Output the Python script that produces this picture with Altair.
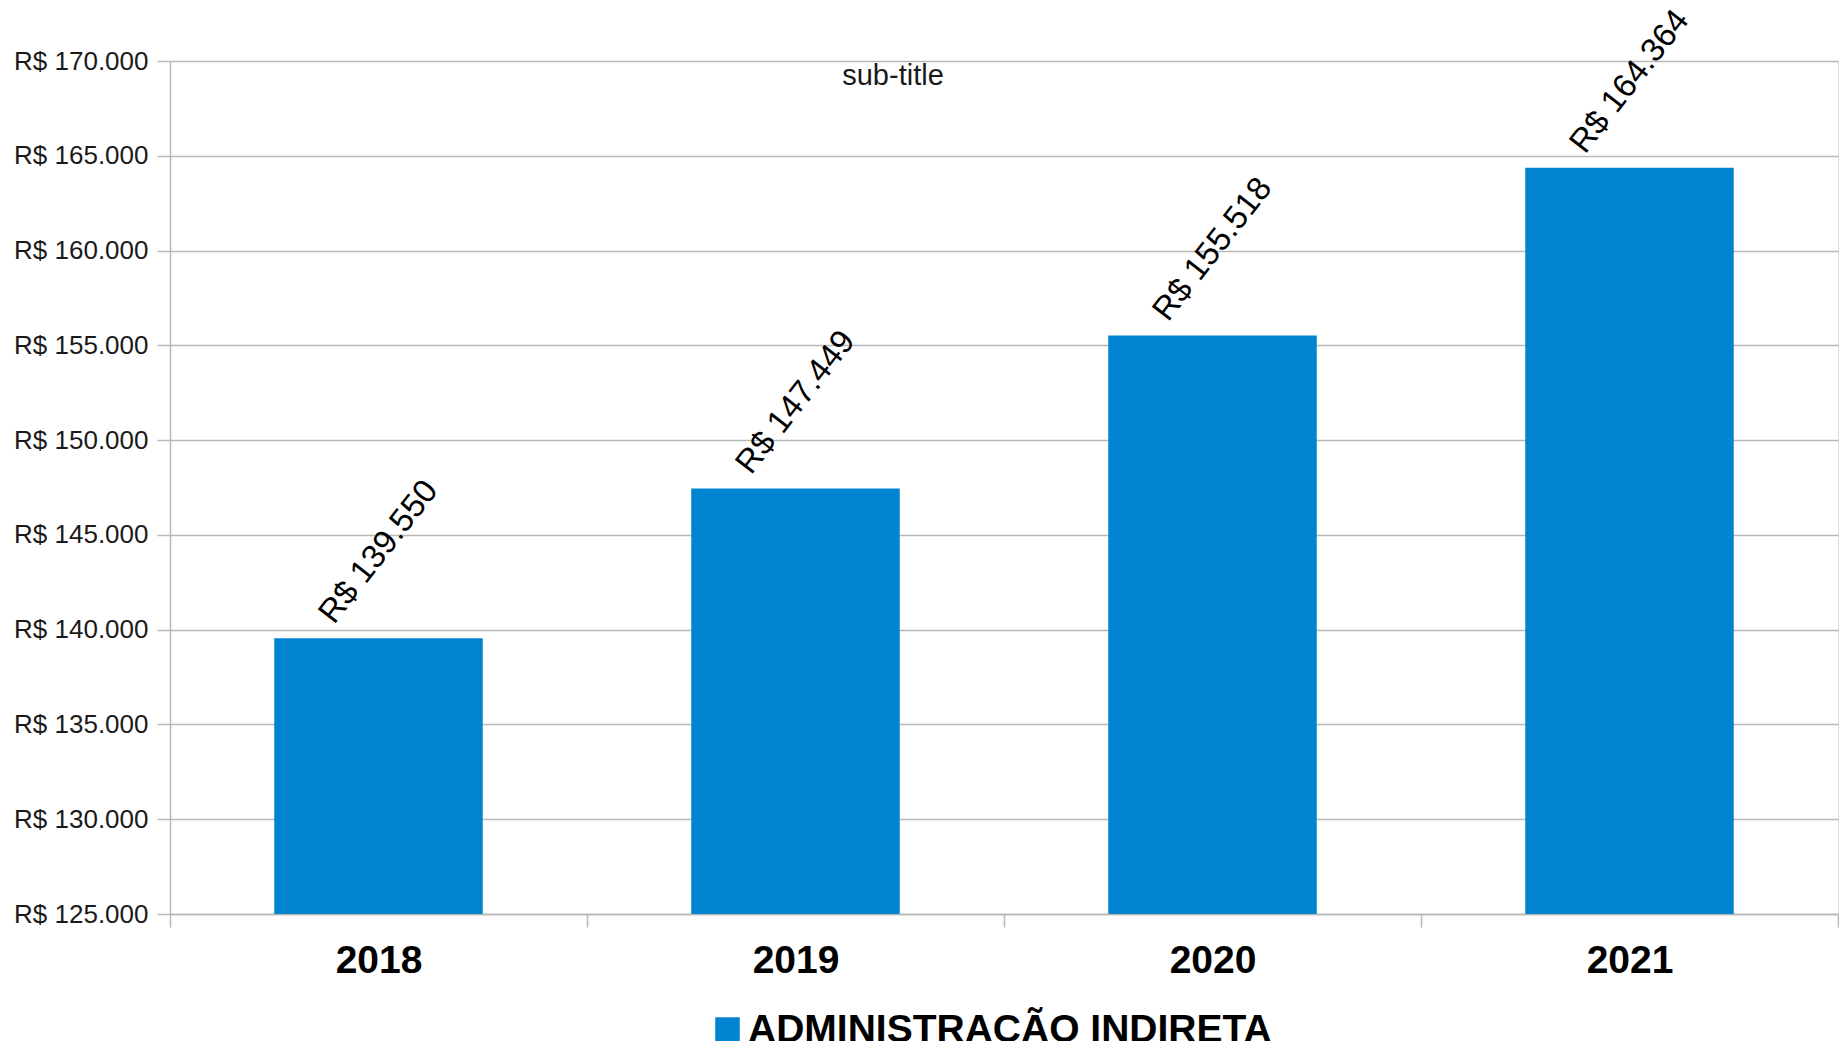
import altair as alt
import pandas as pd

# ---- data ----
years = ["2018", "2019", "2020", "2021"]
values = [139550, 147449, 155518, 164364]
series_name = "ADMINISTRAÇÃO INDIRETA"
y_ticks = [125000, 130000, 135000, 140000, 145000, 150000, 155000, 160000, 165000, 170000]
subtitle_text = ["sub-title"]


def brl(v):
    return "R$ " + f"{v:,}".replace(",", ".")


df = pd.DataFrame({
    "ano": years,
    "valor": values,
    "serie": [series_name] * len(years),
    "rotulo": [brl(v) for v in values],
})
df_sub = pd.DataFrame({"t": subtitle_text})

SANS = "Liberation Sans"
GRAY = "#b8b8b8"
BLUE = "#0084d1"

x_enc = alt.X(
    "ano:N",
    sort=years,
    title=None,
    scale=alt.Scale(paddingInner=0, paddingOuter=0),
    axis=alt.Axis(
        labelAngle=0,
        labelFont=SANS,
        labelFontSize=39,
        labelFontWeight="bold",
        labelColor="#000000",
        labelPadding=14,
        tickBand="extent",
        tickSize=13,
        tickColor=GRAY,
        tickWidth=1.5,
        domainColor=GRAY,
        domainWidth=1.5,
        grid=False,
    ),
)

y_enc = alt.Y(
    "valor:Q",
    title=None,
    scale=alt.Scale(domain=[y_ticks[0], y_ticks[-1]], zero=False, nice=False),
    axis=alt.Axis(
        values=y_ticks,
        labelExpr="'R$ ' + replace(format(datum.value, ','), ',', '.')",
        labelFont=SANS,
        labelFontSize=26,
        labelColor="#1a1a1a",
        labelPadding=9,
        tickSize=13,
        tickColor=GRAY,
        tickWidth=1.5,
        domainColor=GRAY,
        domainWidth=1.5,
        gridColor=GRAY,
        gridWidth=1.5,
    ),
)

bars = alt.Chart(df).mark_bar(clip=True, width=alt.RelativeBandSize(0.5)).encode(
    x=x_enc,
    y=y_enc,
    color=alt.Color(
        "serie:N",
        scale=alt.Scale(range=[BLUE]),
        legend=alt.Legend(
            title=None,
            orient="none",
            legendX=538,
            legendY=949,
            padding=0,
            symbolType="square",
            symbolSize=600,
            symbolStrokeWidth=0,
            labelFont=SANS,
            labelFontSize=39,
            labelFontWeight="bold",
            labelColor="#000000",
            labelOffset=1,
            labelLimit=1000,
        ),
    ),
)

labels = alt.Chart(df).mark_text(
    angle=308,
    align="center",
    baseline="middle",
    dx=68,
    dy=-53,
    font=SANS,
    fontSize=33,
    color="#000000",
).encode(
    x=alt.X("ano:N", sort=years),
    y=alt.Y("valor:Q"),
    text="rotulo:N",
)

sub = alt.Chart(df_sub).mark_text(
    align="center",
    baseline="alphabetic",
    font=SANS,
    fontSize=29,
    color="#1a1a1a",
).encode(
    x=alt.value(723),
    y=alt.value(24),
    text="t:N",
)

chart = (
    alt.layer(bars, labels, sub)
    .properties(
        width=1668,
        height=853,
        autosize=alt.AutoSizeParams(type="none"),
        padding={"left": 162, "top": 53, "right": 1, "bottom": 127},
    )
    .configure_view(stroke=GRAY, strokeWidth=1.5)
    .configure(background="#ffffff")
)

chart.save("out.html", embed_options={"renderer": "svg", "actions": False})
